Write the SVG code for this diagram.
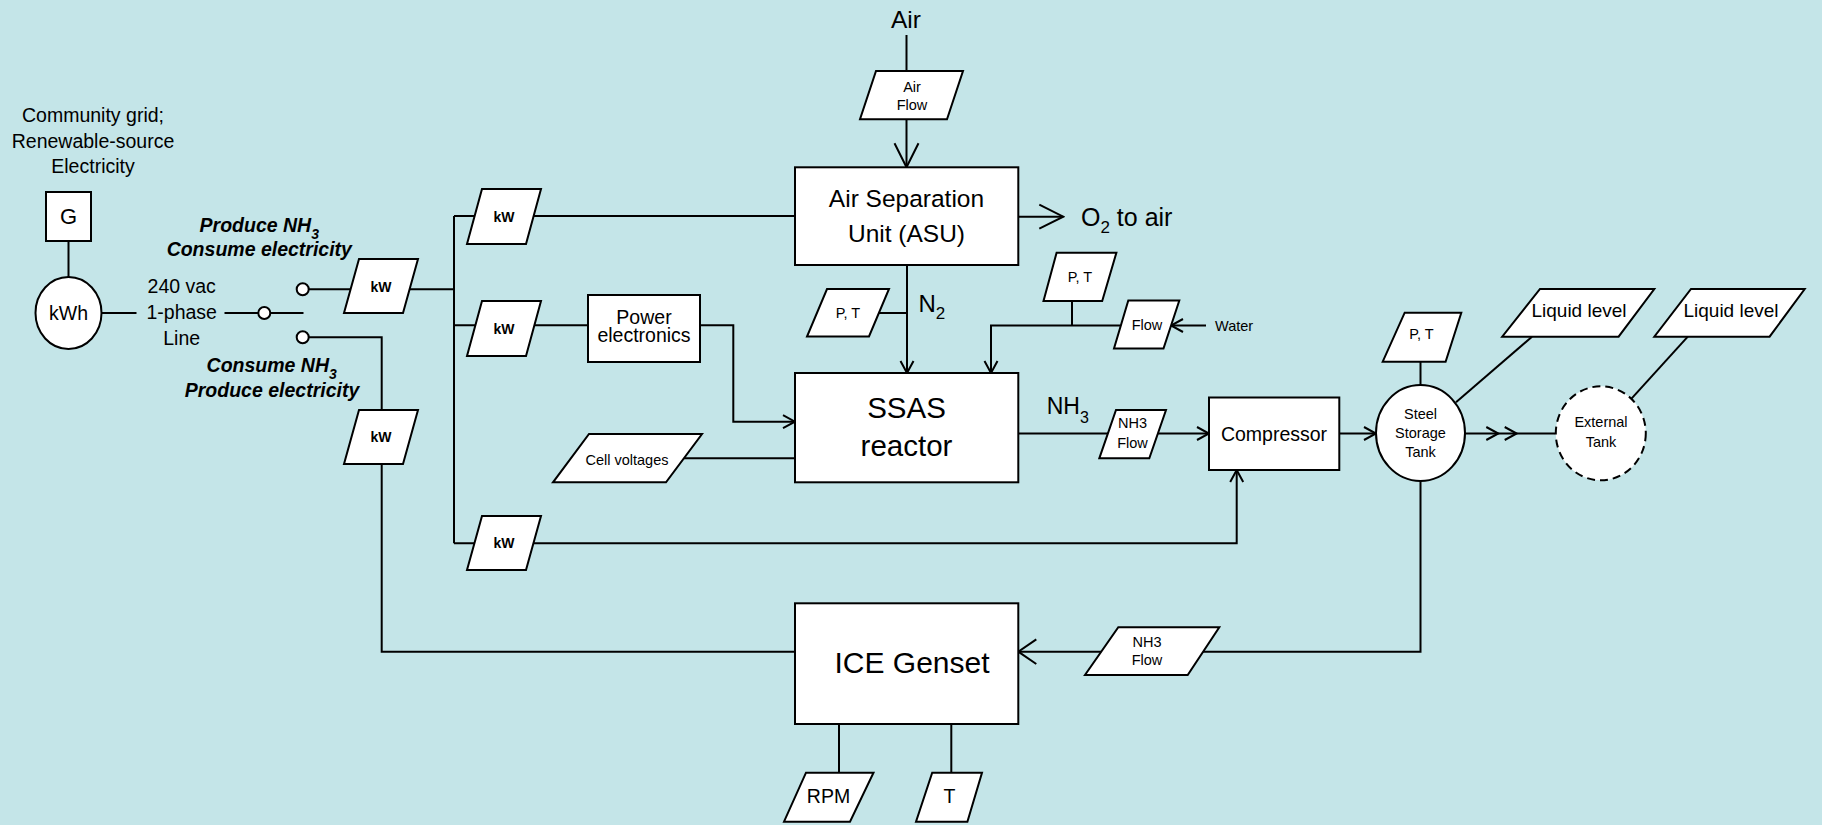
<svg xmlns="http://www.w3.org/2000/svg" width="1822" height="825" viewBox="0 0 1822 825">
<defs>
<style>
text{font-family:"Liberation Sans",Arial,sans-serif;fill:#000;}
.box{fill:#fff;stroke:#000;stroke-width:2;}
.ln{fill:none;stroke:#000;stroke-width:2;}
.t195{font-size:19.5px;}
.t15{font-size:14.5px;}
.kw{font-size:14px;font-weight:bold;}
.bi{font-size:19.5px;font-weight:bold;font-style:italic;}
.m{text-anchor:middle;}
</style>
<marker id="arrS" viewBox="-15 -9 17 18" refX="0" refY="0" markerWidth="17" markerHeight="18" markerUnits="userSpaceOnUse" orient="auto">
<path d="M-12,-6.5 L0,0 L-12,6.5" fill="none" stroke="#000" stroke-width="2"/>
</marker>
<marker id="arrL" viewBox="-27 -14 29 28" refX="0" refY="0" markerWidth="29" markerHeight="28" markerUnits="userSpaceOnUse" orient="auto">
<path d="M-24,-12 L0,0 L-24,12" fill="none" stroke="#000" stroke-width="2"/>
</marker>
<marker id="arrM" viewBox="-21 -14 23 28" refX="0" refY="0" markerWidth="23" markerHeight="28" markerUnits="userSpaceOnUse" orient="auto">
<path d="M-18,-12.3 L0,0 L-18,12.3" fill="none" stroke="#000" stroke-width="2"/>
</marker>
</defs>
<rect x="0" y="0" width="1822" height="825" fill="#C4E5E8"/>

<g id="connectors">
<line class="ln" x1="68.5" y1="241" x2="68.5" y2="277"/>
<line class="ln" x1="101.5" y1="313" x2="136.5" y2="313"/>
<line class="ln" x1="224.5" y1="313" x2="258.3" y2="313"/>
<line class="ln" x1="270.3" y1="313" x2="303.5" y2="313"/>
<line class="ln" x1="308.7" y1="289.3" x2="454" y2="289.3"/>
<polyline class="ln" points="308.7,337.3 381.7,337.3 381.7,651.7 795,651.7"/>
<line class="ln" x1="454" y1="216" x2="454" y2="543.3"/>
<line class="ln" x1="454" y1="216" x2="795" y2="216"/>
<line class="ln" x1="454" y1="325.3" x2="588" y2="325.3"/>
<polyline class="ln" points="700,325.3 733.3,325.3 733.3,421.7 795,421.7" marker-end="url(#arrS)"/>
<line class="ln" x1="680" y1="458.3" x2="795" y2="458.3"/>
<polyline class="ln" points="454,543.3 1236.7,543.3 1236.7,470" marker-end="url(#arrS)"/>
<line class="ln" x1="906.5" y1="35" x2="906.5" y2="167.3" marker-end="url(#arrL)"/>
<line class="ln" x1="1018.3" y1="216.7" x2="1063.3" y2="216.7" marker-end="url(#arrL)"/>
<line class="ln" x1="907" y1="265" x2="907" y2="373" marker-end="url(#arrS)"/>
<line class="ln" x1="878" y1="313" x2="907" y2="313"/>
<line class="ln" x1="1072" y1="301" x2="1072" y2="325.5"/>
<polyline class="ln" points="1120,325.5 991,325.5 991,373" marker-end="url(#arrS)"/>
<line class="ln" x1="1206" y1="325.5" x2="1171" y2="325.5" marker-end="url(#arrS)"/>
<line class="ln" x1="1018.3" y1="433.5" x2="1209" y2="433.5" marker-end="url(#arrS)"/>
<line class="ln" x1="1339.3" y1="433.5" x2="1376" y2="433.5" marker-end="url(#arrS)"/>
<line class="ln" x1="1420.5" y1="361.7" x2="1420.5" y2="385"/>
<line class="ln" x1="1456" y1="402.3" x2="1532" y2="336.7"/>
<polyline class="ln" points="1465,433.5 1498.3,433.5 1516.7,433.5 1555,433.5" marker-mid="url(#arrS)"/>
<line class="ln" x1="1631.7" y1="398.3" x2="1687.8" y2="336.7"/>
<polyline class="ln" points="1420.5,481 1420.5,651.7 1018.3,651.7" marker-end="url(#arrM)"/>
<line class="ln" x1="839" y1="724" x2="839" y2="773"/>
<line class="ln" x1="951.3" y1="724" x2="951.3" y2="773"/>
</g>

<g id="grid-label">
<text class="t195 m" x="93" y="122.3">Community grid;</text>
<text class="t195 m" x="93" y="148.3">Renewable-source</text>
<text class="t195 m" x="93" y="173.3">Electricity</text>
</g>
<g id="generator">
<rect class="box" x="46" y="192" width="45" height="49"/>
<text class="m" x="68.5" y="223.5" style="font-size:22px">G</text>
</g>
<g id="meter">
<ellipse class="box" cx="68.5" cy="313" rx="33" ry="36"/>
<text class="t195 m" x="68.5" y="319.5">kWh</text>
</g>
<g id="line-label">
<text class="t195 m" x="181.7" y="293.3">240 vac</text>
<text class="t195 m" x="181.7" y="319.3">1-phase</text>
<text class="t195 m" x="181.7" y="345">Line</text>
</g>
<g id="switch">
<circle class="box" cx="264.3" cy="313" r="6"/>
<circle class="box" cx="302.7" cy="289.3" r="6"/>
<circle class="box" cx="302.7" cy="337.3" r="6"/>
</g>
<g id="mode-labels">
<text class="bi m" x="259.3" y="231.7">Produce NH<tspan style="font-size:14px" dy="7">3</tspan></text>
<text class="bi m" x="259.3" y="256">Consume electricity</text>
<text class="bi m" x="271.7" y="371.7">Consume NH<tspan style="font-size:14px" dy="7">3</tspan></text>
<text class="bi m" x="272" y="396.7">Produce electricity</text>
</g>
<g id="kw1">
<polygon class="box" points="344,313 403,313 418,259 359,259"/>
<text class="kw m" x="381" y="291.5">kW</text>
</g>
<g id="kw2">
<polygon class="box" points="467,244 526,244 541,189 482,189"/>
<text class="kw m" x="504" y="221.5">kW</text>
</g>
<g id="kw-pe">
<polygon class="box" points="467,356 526,356 541,301 482,301"/>
<text class="kw m" x="504" y="333.5">kW</text>
</g>
<g id="kw3">
<polygon class="box" points="344,464 403,464 418,410 359,410"/>
<text class="kw m" x="381" y="442">kW</text>
</g>
<g id="kw4">
<polygon class="box" points="467,570 526,570 541,516 482,516"/>
<text class="kw m" x="504" y="548.3">kW</text>
</g>
<g id="power-electronics">
<rect class="box" x="588" y="295" width="112" height="67"/>
<text class="t195 m" x="644" y="324">Power</text>
<text class="t195 m" x="644" y="342.3">electronics</text>
</g>
<g id="cell-voltages">
<polygon class="box" points="553,482.3 666,482.3 702,434 589,434"/>
<text class="t15 m" x="627" y="465">Cell voltages</text>
</g>
<g id="air-label">
<text class="m" x="906" y="28.3" style="font-size:24.5px">Air</text>
</g>
<g id="air-flow">
<polygon class="box" points="860,119.3 947,119.3 963,71 876,71"/>
<text class="t15 m" x="912" y="91.7">Air</text>
<text class="t15 m" x="912" y="110">Flow</text>
</g>
<g id="asu">
<rect class="box" x="795" y="167.3" width="223.3" height="97.7"/>
<text class="m" x="906.5" y="207.3" style="font-size:24.5px">Air Separation</text>
<text class="m" x="906.5" y="241.7" style="font-size:24.5px">Unit (ASU)</text>
</g>
<g id="o2-label">
<text x="1081" y="226" style="font-size:25px">O<tspan style="font-size:17px" dy="7">2</tspan><tspan dy="-7"> to air</tspan></text>
</g>
<g id="pt-n2">
<polygon class="box" points="807,336.5 869,336.5 889,289 827,289"/>
<text class="t15 m" x="848" y="318.3">P, T</text>
</g>
<g id="n2-label">
<text x="918.4" y="311.7" style="font-size:24px">N<tspan style="font-size:17px" dy="7">2</tspan></text>
</g>
<g id="ssas">
<rect class="box" x="795" y="373" width="223.3" height="109.3"/>
<text class="m" x="906.5" y="418.3" style="font-size:29.5px">SSAS</text>
<text class="m" x="906.5" y="455.7" style="font-size:29.5px">reactor</text>
</g>
<g id="pt-water">
<polygon class="box" points="1043.5,301 1102.2,301 1116.4,252.7 1056.6,252.7"/>
<text class="t15 m" x="1080" y="281.7">P, T</text>
</g>
<g id="water-flow">
<polygon class="box" points="1114,348.5 1163.5,348.5 1179.3,300.5 1128.3,300.5"/>
<text class="t15 m" x="1147" y="329.5">Flow</text>
</g>
<g id="water-label">
<text class="t15" x="1215" y="330.5">Water</text>
</g>
<g id="nh3-label">
<text x="1046.7" y="414.3" style="font-size:23px">NH<tspan style="font-size:16px" dy="9">3</tspan></text>
</g>
<g id="nh3-flow-1">
<polygon class="box" points="1099.3,458.3 1149.3,458.3 1166,410 1116,410"/>
<text class="t15 m" x="1132.5" y="427.7">NH3</text>
<text class="t15 m" x="1132.5" y="447.7">Flow</text>
</g>
<g id="compressor">
<rect class="box" x="1209" y="397.5" width="130.3" height="72.5"/>
<text class="t195 m" x="1274" y="440.5">Compressor</text>
</g>
<g id="pt-tank">
<polygon class="box" points="1382.7,361.7 1445.6,361.7 1461.3,312.7 1404.7,312.7"/>
<text class="t15 m" x="1421.5" y="339.3">P, T</text>
</g>
<g id="steel-tank">
<ellipse class="box" cx="1420.5" cy="433" rx="44.5" ry="48"/>
<text class="t15 m" x="1420.5" y="419.3">Steel</text>
<text class="t15 m" x="1420.5" y="438.3">Storage</text>
<text class="t15 m" x="1420.5" y="456.7">Tank</text>
</g>
<g id="liquid-level-1">
<polygon class="box" points="1502.2,336.7 1618.6,336.7 1654.3,289 1540,289"/>
<text class="m" x="1579" y="317.3" style="font-size:19px">Liquid level</text>
</g>
<g id="external-tank">
<ellipse cx="1600.8" cy="433.3" rx="45" ry="47" fill="#fff" stroke="#000" stroke-width="2" stroke-dasharray="8,5"/>
<text class="t15 m" x="1601" y="426.7">External</text>
<text class="t15 m" x="1601" y="446.7">Tank</text>
</g>
<g id="liquid-level-2">
<polygon class="box" points="1654.3,336.7 1769.6,336.7 1804.7,289 1691,289"/>
<text class="m" x="1731" y="317.3" style="font-size:19px">Liquid level</text>
</g>
<g id="nh3-flow-2">
<polygon class="box" points="1085,675 1187.7,675 1219.3,627.3 1118.3,627.3"/>
<text class="t15 m" x="1147" y="646.7">NH3</text>
<text class="t15 m" x="1147" y="665">Flow</text>
</g>
<g id="ice-genset">
<rect class="box" x="795" y="603.3" width="223.3" height="120.7"/>
<text class="m" x="912" y="673.3" style="font-size:30px">ICE Genset</text>
</g>
<g id="rpm">
<polygon class="box" points="784,821.7 850,821.7 873.5,772.7 806,772.7"/>
<text class="t195 m" x="828.5" y="803.3">RPM</text>
</g>
<g id="temp">
<polygon class="box" points="916,821.7 967.4,821.7 982,772.7 932.2,772.7"/>
<text class="t195 m" x="949.5" y="803.3">T</text>
</g>
</svg>
